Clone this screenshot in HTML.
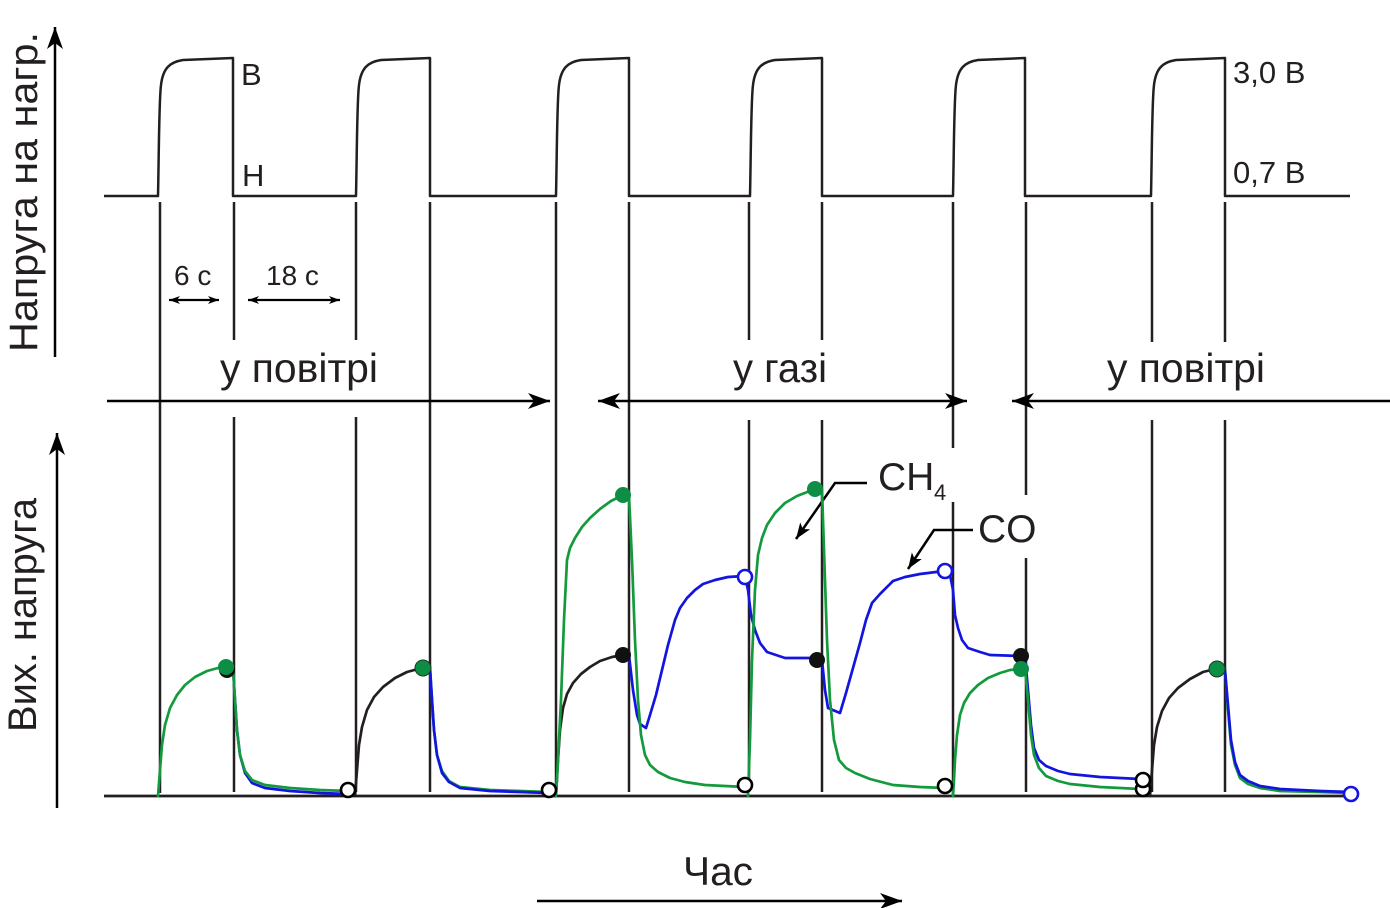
<!DOCTYPE html>
<html>
<head>
<meta charset="utf-8">
<style>
  html, body { margin: 0; padding: 0; background: #ffffff; }
  svg { display: block; }
  text { font-family: "Liberation Sans", Arial, sans-serif; fill: #231f20; }
</style>
</head>
<body>
<svg width="1390" height="908" viewBox="0 0 1390 908" xmlns="http://www.w3.org/2000/svg">
  <defs>
    <marker id="big" viewBox="0 0 22 16" refX="22" refY="8" markerWidth="22" markerHeight="16" markerUnits="userSpaceOnUse" orient="auto-start-reverse">
      <path d="M0,0 L22,8 L0,16 L6,8 Z" fill="#000"/>
    </marker>
    <marker id="mid" viewBox="0 0 16 12" refX="16" refY="6" markerWidth="16" markerHeight="12" markerUnits="userSpaceOnUse" orient="auto">
      <path d="M0,0 L16,6 L0,12 L4,6 Z" fill="#000"/>
    </marker>
    <marker id="sm" viewBox="0 0 11 8" refX="11" refY="4" markerWidth="11" markerHeight="8" markerUnits="userSpaceOnUse" orient="auto-start-reverse">
      <path d="M0,0 L11,4 L0,8 L3,4 Z" fill="#000"/>
    </marker>
  </defs>

  <!-- Y axes -->
  <line x1="55" y1="357" x2="55" y2="27" stroke="#000" stroke-width="2.5" marker-end="url(#big)"/>
  <line x1="57" y1="808" x2="57" y2="433" stroke="#000" stroke-width="2.5" marker-end="url(#big)"/>

  <text transform="translate(37,352) rotate(-90)" font-size="40" textLength="320" lengthAdjust="spacingAndGlyphs">Напруга на нагр.</text>
  <text transform="translate(36,732) rotate(-90)" font-size="40" textLength="234" lengthAdjust="spacingAndGlyphs">Вих. напруга</text>

  <!-- Heater waveform -->
  <path fill="none" stroke="#231f20" stroke-width="2.5" stroke-linejoin="round"
    d="M104,196 H158 C159,150 159,100 161,85 C163,68 170,62 183,60 L233,58 V196
       H356 C357,150 357,100 359,85 C361,68 368,62 381,60 L430,58 V196
       H556 C557,150 557,100 559,85 C561,68 568,62 581,60 L629,58 V196
       H750 C751,150 751,100 753,85 C755,68 762,62 775,60 L822,58 V196
       H953 C954,150 954,100 956,85 C958,68 965,62 978,60 L1025,58 V196
       H1151 C1152,150 1152,100 1154,85 C1156,68 1163,62 1176,60 L1225,58 V196 H1350"/>

  <text x="241" y="85" font-size="31">В</text>
  <text x="242" y="186" font-size="31">Н</text>
  <text x="1233" y="83" font-size="31">3,0 В</text>
  <text x="1233" y="183" font-size="31">0,7 В</text>

  <!-- vertical guide lines -->
  <g stroke="#231f20" stroke-width="2.5">
    <line x1="160" y1="202" x2="160" y2="793"/>
    <line x1="234" y1="202" x2="234" y2="340"/><line x1="234" y1="417" x2="234" y2="792"/>
    <line x1="356" y1="202" x2="356" y2="340"/><line x1="356" y1="417" x2="356" y2="792"/>
    <line x1="430" y1="202" x2="430" y2="792"/>
    <line x1="556" y1="202" x2="556" y2="792"/>
    <line x1="629" y1="202" x2="629" y2="792"/>
    <line x1="749" y1="202" x2="749" y2="340"/><line x1="749" y1="420" x2="749" y2="792"/>
    <line x1="822" y1="202" x2="822" y2="340"/><line x1="822" y1="420" x2="822" y2="792"/>
    <line x1="953" y1="202" x2="953" y2="448"/><line x1="953" y1="502" x2="953" y2="796"/>
    <line x1="1026" y1="202" x2="1026" y2="495"/><line x1="1026" y1="558" x2="1026" y2="792"/>
    <line x1="1152" y1="202" x2="1152" y2="342"/><line x1="1152" y1="420" x2="1152" y2="792"/>
    <line x1="1225" y1="202" x2="1225" y2="342"/><line x1="1225" y1="420" x2="1225" y2="792"/>
  </g>

  <!-- 6 c / 18 c -->
  <text x="174" y="285" font-size="28">6 с</text>
  <text x="266" y="285" font-size="28">18 с</text>
  <line x1="169" y1="300" x2="219" y2="300" stroke="#000" stroke-width="2.2" marker-start="url(#sm)" marker-end="url(#sm)"/>
  <line x1="248" y1="300" x2="340" y2="300" stroke="#000" stroke-width="2.2" marker-start="url(#sm)" marker-end="url(#sm)"/>

  <!-- region labels and arrows -->
  <text x="220" y="382" font-size="41" textLength="158" lengthAdjust="spacingAndGlyphs">у повітрі</text>
  <text x="733" y="382" font-size="41" textLength="94" lengthAdjust="spacingAndGlyphs">у газі</text>
  <text x="1107" y="382" font-size="41" textLength="158" lengthAdjust="spacingAndGlyphs">у повітрі</text>

  <line x1="107" y1="401" x2="550" y2="401" stroke="#000" stroke-width="2.5" marker-end="url(#big)"/>
  <line x1="598" y1="401" x2="967" y2="401" stroke="#000" stroke-width="2.5" marker-start="url(#big)" marker-end="url(#big)"/>
  <line x1="1390" y1="401" x2="1012" y2="401" stroke="#000" stroke-width="2.5" marker-end="url(#big)"/>

  <!-- bottom baseline -->
  <line x1="104" y1="796" x2="1345" y2="796" stroke="#231f20" stroke-width="2.8"/>

  <!-- Time axis -->
  <text x="683" y="885" font-size="40" textLength="70" lengthAdjust="spacingAndGlyphs">Час</text>
  <line x1="537" y1="901" x2="902" y2="901" stroke="#000" stroke-width="2.5" marker-end="url(#big)"/>

  <!-- CH4 / CO labels -->
  <text x="878" y="490" font-size="39">CH</text>
  <text x="934" y="500" font-size="22">4</text>
  <polyline points="867,483 835,483 796,539" fill="none" stroke="#000" stroke-width="2.5" marker-end="url(#mid)"/>
  <text x="978" y="542" font-size="39">CO</text>
  <polyline points="973,530 934,530 908,569" fill="none" stroke="#000" stroke-width="2.5" marker-end="url(#mid)"/>

  <g fill="none" stroke-width="2.7" stroke-linejoin="round" stroke-linecap="round">
    <!-- cycle 1 -->
    <polyline stroke="#1414e0" points="233,668 235,700 237,730 240,755 245,773 252,783 265,788 290,791 320,793 348,794"/>
    <polyline stroke="#139a3c" points="233,668 235,700 237,730 240,755 245,771 252,780 265,785 290,788 320,790 348,791"/>
    <polyline stroke="#139a3c" points="158,796 160,770 162,745 165,725 170,708 177,695 185,685 195,677 207,671 218,668 226,667"/>

    <!-- cycle 2 -->
    <polyline stroke="#139a3c" points="430,668 432,700 434,730 437,755 442,771 449,781 460,787 490,790 520,791 548,792"/>
    <polyline stroke="#1414e0" points="430,668 432,700 434,730 437,755 442,773 449,782 460,788 490,791 520,792 548,793"/>
    <polyline stroke="#231f20" points="355,796 357,770 359,745 362,727 367,710 374,697 383,687 395,678 407,672 418,669"/>

    <!-- cycle 3 -->
    <polyline stroke="#231f20" points="556,796 558,760 560,730 563,708 567,694 573,683 581,674 590,667 600,661 612,657 623,655"/>
    <polyline stroke="#139a3c" points="556,796 558,760 561,700 564,620 567,560 570,548 575,538 582,527 590,518 600,509 611,501 623,495"/>
    <polyline stroke="#1414e0" points="629,655 633,690 637,715 640,724 646,728 650,715 656,695 662,670 668,645 675,620 680,608 687,598 695,590 703,584 715,580 728,577 744,576"/>
    <polyline stroke="#139a3c" points="629,495 632,560 635,640 638,700 641,735 645,755 650,765 658,772 670,778 685,782 705,785 725,786 745,787"/>

    <!-- cycle 4 -->
    <polyline stroke="#1414e0" points="745,577 748,590 751,615 755,630 760,643 767,652 785,658 815,658"/>
    <polyline stroke="#139a3c" points="748,796 750,740 752,660 755,590 758,555 762,538 767,525 775,513 785,503 797,496 815,489"/>
    <polyline stroke="#1414e0" points="822,660 825,690 828,708 840,713 846,693 853,668 860,643 866,620 872,603 880,594 893,581 905,577 920,574 944,571"/>
    <polyline stroke="#139a3c" points="822,489 824,550 827,640 830,700 834,740 839,760 846,768 855,773 870,779 893,785 920,787 945,788"/>

    <!-- cycle 5 -->
    <polyline stroke="#1414e0" points="950,575 953,590 955,615 958,628 962,640 968,648 980,652 990,655 1020,656"/>
    <polyline stroke="#139a3c" points="953,796 954,780 955,760 957,735 960,715 964,703 970,693 978,685 988,678 1000,673 1010,670 1020,669"/>
    <polyline stroke="#1414e0" points="1025,656 1028,690 1031,725 1034,748 1039,760 1046,766 1058,771 1070,774 1100,777 1140,779"/>
    <polyline stroke="#139a3c" points="1025,669 1028,700 1031,735 1034,755 1039,768 1046,776 1058,781 1070,784 1100,787 1140,789"/>

    <!-- cycle 6 -->
    <polyline stroke="#231f20" points="1150,796 1152,770 1154,745 1157,727 1162,711 1169,698 1178,688 1190,679 1203,672 1215,669"/>
    <polyline stroke="#139a3c" points="1225,670 1228,710 1231,745 1235,765 1240,778 1248,784 1260,788 1280,791 1320,792 1350,793"/>
    <polyline stroke="#1414e0" points="1225,670 1228,705 1231,740 1235,762 1240,775 1248,781 1260,786 1280,789 1320,791 1350,792"/>
  </g>

  <!-- markers / dots -->
  <g>
    <circle cx="227" cy="670" r="8" fill="#111"/>
    <circle cx="226" cy="667" r="8" fill="#0c8f45"/>
    <circle cx="423" cy="668" r="8" fill="#0c8f45" stroke="#1a3a20" stroke-width="1"/>
    <circle cx="623" cy="495" r="8" fill="#0c8f45"/>
    <circle cx="623" cy="655" r="8" fill="#111"/>
    <circle cx="815" cy="489" r="8" fill="#0c8f45"/>
    <circle cx="817" cy="660" r="8" fill="#111"/>
    <circle cx="1021" cy="656" r="8" fill="#111"/>
    <circle cx="1021" cy="669" r="8" fill="#0c8f45"/>
    <circle cx="1217" cy="669" r="8" fill="#0c8f45" stroke="#1a3a20" stroke-width="1"/>

    <circle cx="348" cy="790" r="7" fill="#fff" stroke="#000" stroke-width="2.6"/>
    <circle cx="549" cy="790" r="7" fill="#fff" stroke="#000" stroke-width="2.6"/>
    <circle cx="745" cy="785" r="7" fill="#fff" stroke="#000" stroke-width="2.6"/>
    <circle cx="945" cy="786" r="7" fill="#fff" stroke="#000" stroke-width="2.6"/>
    <circle cx="1143" cy="789" r="7" fill="#fff" stroke="#000" stroke-width="2.6"/>
    <circle cx="1143" cy="780" r="7" fill="#fff" stroke="#000" stroke-width="2.6"/>

    <circle cx="745" cy="577" r="7" fill="#fff" stroke="#1414e0" stroke-width="2.6"/>
    <circle cx="945" cy="571" r="7" fill="#fff" stroke="#1414e0" stroke-width="2.6"/>
    <circle cx="1351" cy="794" r="7" fill="#fff" stroke="#1414e0" stroke-width="2.6"/>
  </g>
</svg>
</body>
</html>
